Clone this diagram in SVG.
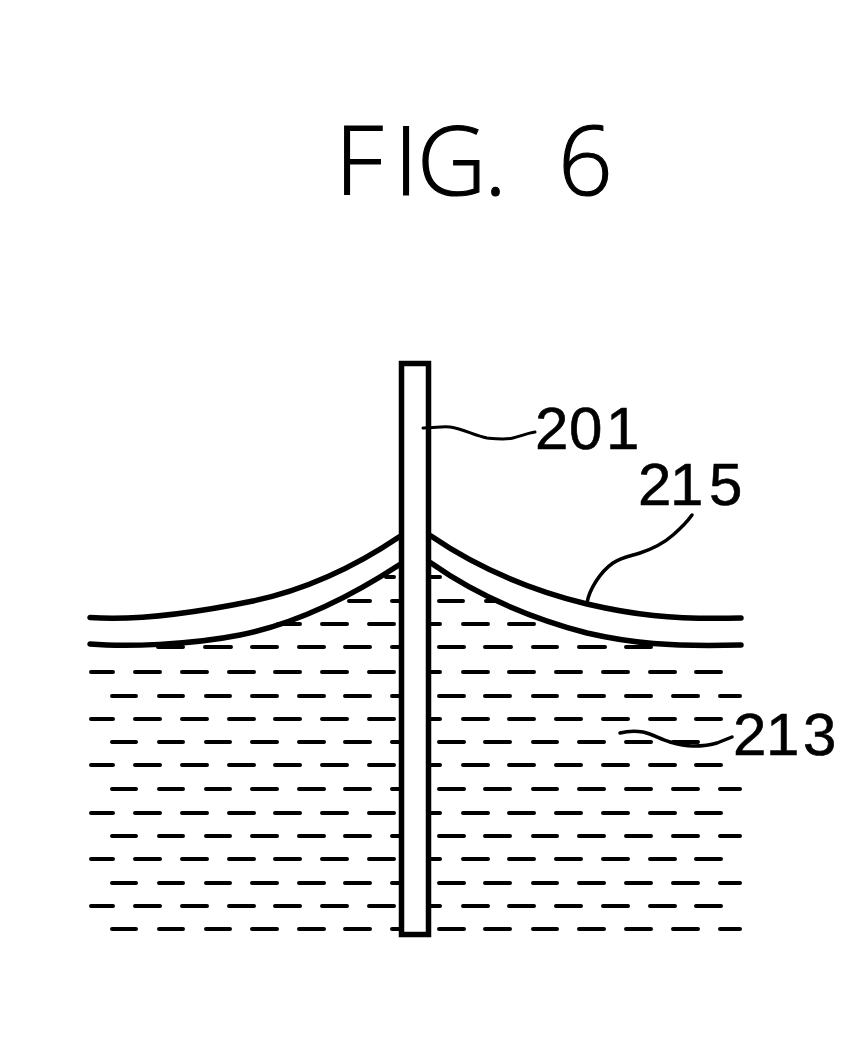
<svg xmlns="http://www.w3.org/2000/svg" width="860" height="1052" viewBox="0 0 860 1052">
<style>
text{font-family:"Liberation Sans",Arial,sans-serif;fill:#000;font-size:60px;stroke:#000;stroke-width:.6}
.title{font-family:"Open Sans","Liberation Sans",sans-serif;font-weight:300;font-size:96px;stroke-width:1.2}
.f{fill:none;stroke:#000;stroke-linecap:round;stroke-linejoin:round}
.dash{stroke:#000;stroke-width:4;stroke-linecap:round;fill:none}
</style>
<rect width="860" height="1052" fill="#fff"/>
<text class="title" x="335 394 417 484 520 558" y="195">FIG. 6</text>
<path class="dash" d="M386 577H394M431 577H440M349 601H370M392 601H399M439 601H463M486 601H496M278 624H300M322 624H347M369 624H394M431 624H440M463 624H488M509 624H534M158 647H183M205 647H231M252 647H277M299 647H324M345 647H370M392 647H399M439 647H464M485 647H511M533 647H557M579 647H605M626 647H651"/>
<path class="dash" id="rowsA" d="M91 672H113M135 672H160M182 672H207M229 672H254M275 672H300M322 672H347M369 672H394M431 672H440M463 672H488M509 672H534M556 672H581M603 672H628M650 672H675M696 672H721
M91 719H113M135 719H160M182 719H207M229 719H254M275 719H300M322 719H347M369 719H394M431 719H440M463 719H488M509 719H534M556 719H581M603 719H628M650 719H675M696 719H721
M91 765H113M135 765H160M182 765H207M229 765H254M275 765H300M322 765H347M369 765H394M431 765H440M463 765H488M509 765H534M556 765H581M603 765H628M650 765H675M696 765H721
M91 813H113M135 813H160M182 813H207M229 813H254M275 813H300M322 813H347M369 813H394M431 813H440M463 813H488M509 813H534M556 813H581M603 813H628M650 813H675M696 813H721
M91 859H113M135 859H160M182 859H207M229 859H254M275 859H300M322 859H347M369 859H394M431 859H440M463 859H488M509 859H534M556 859H581M603 859H628M650 859H675M696 859H721
M91 906H113M135 906H160M182 906H207M229 906H254M275 906H300M322 906H347M369 906H394M431 906H440M463 906H488M509 906H534M556 906H581M603 906H628M650 906H675M696 906H721"/>
<path class="dash" id="rowsB" d="M112 696H136M159 696H183M206 696H230M252 696H277M299 696H324M345 696H370M392 696H399M439 696H464M485 696H510M533 696H557M579 696H604M626 696H651M673 696H698M720 696H740
M112 742H136M159 742H183M206 742H230M252 742H277M299 742H324M345 742H370M392 742H399M439 742H464M485 742H510M533 742H557M579 742H604M626 742H651M673 742H698
M112 789H136M159 789H183M206 789H230M252 789H277M299 789H324M345 789H370M392 789H399M439 789H464M485 789H510M533 789H557M579 789H604M626 789H651M673 789H698M720 789H740
M112 836H136M159 836H183M206 836H230M252 836H277M299 836H324M345 836H370M392 836H399M439 836H464M485 836H510M533 836H557M579 836H604M626 836H651M673 836H698M720 836H740
M112 883H136M159 883H183M206 883H230M252 883H277M299 883H324M345 883H370M392 883H399M439 883H464M485 883H510M533 883H557M579 883H604M626 883H651M673 883H698M720 883H740
M112 929H136M159 929H183M206 929H230M252 929H277M299 929H324M345 929H370M392 929H399M439 929H464M485 929H510M533 929H557M579 929H604M626 929H651M673 929H698M720 929H740"/>
<g id="surface">
<path class="f" stroke-width="5.5" d="M90 617.5C125 620 175 617 253 601C300 591 350 570 399 537"/>
<path class="f" stroke-width="5.5" d="M90 644C125 647 190 645 240 635C295 624 350 597 399 565"/>
<path class="f" stroke-width="5.5" d="M431 536C475 566 530 590 587 604C630 614 670 620 741 618"/>
<path class="f" stroke-width="5.5" d="M431 563C475 594 530 618 587 633C630 643 670 647 741 645"/>
</g>
<rect id="rod" x="401.5" y="363.5" width="27" height="571" fill="none" stroke="#000" stroke-width="5.5"/>
<g id="leaders">
<path class="f" stroke-width="3" d="M423 428C435 428 442 426 450 427C464 429 475 436 487 438C497 439 505 440 513 438C521 436 528 433 535 432"/>
<path class="f" stroke-width="3.5" d="M587 603C589 590 600 572 613 563C622 557 631 556 640 553C652 549 664 543 673 535C681 528 687 522 692 515"/>
<path class="f" stroke-width="3.5" d="M620 733C628 731 636 731 643 732C652 734 660 739 670 742C680 745 688 746 693 746C703 746 711 745 717 743C722 741 727 739 732 737"/>
</g>
<g id="label201"><text x="535 569 606" y="449">201</text></g>
<g id="label215"><text x="638 670 709" y="505">215</text></g>
<g id="label213"><text x="733 766 803" y="755">213</text></g>
</svg>
